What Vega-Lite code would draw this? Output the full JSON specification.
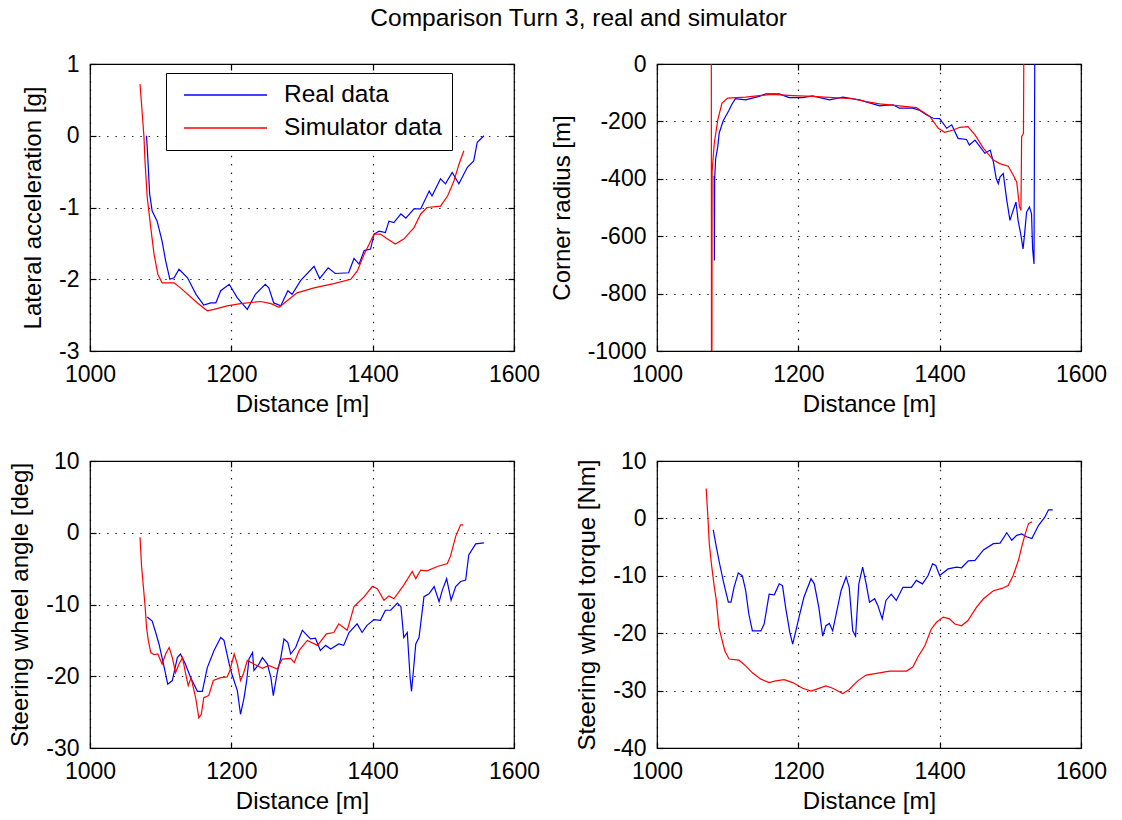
{
  "$schema": "https://vega.github.io/schema/vega-lite/v6.json",
  "background": "white",
  "padding": {"left": 8, "top": 5, "right": 10, "bottom": 5},
  "title": {"text": "Comparison Turn 3, real and simulator", "fontSize": 24.5, "fontWeight": "normal", "font": "Liberation Sans", "color": "black", "anchor": "middle", "offset": 21, "dx": 21},
  "datasets": {
    "acc": [
      {"d":1080,"v":0.0,"s":"Real data"},{"d":1082,"v":-0.35,"s":"Real data"},{"d":1084.4,"v":-0.81,"s":"Real data"},{"d":1088,"v":-1.05,"s":"Real data"},{"d":1095,"v":-1.19,"s":"Real data"},{"d":1102,"v":-1.47,"s":"Real data"},{"d":1107,"v":-1.74,"s":"Real data"},{"d":1113,"v":-2.0,"s":"Real data"},{"d":1119,"v":-1.98,"s":"Real data"},{"d":1126,"v":-1.86,"s":"Real data"},{"d":1138,"v":-1.98,"s":"Real data"},{"d":1150,"v":-2.21,"s":"Real data"},{"d":1161,"v":-2.36,"s":"Real data"},{"d":1171,"v":-2.33,"s":"Real data"},{"d":1178,"v":-2.33,"s":"Real data"},{"d":1185,"v":-2.16,"s":"Real data"},{"d":1197,"v":-2.07,"s":"Real data"},{"d":1208.5,"v":-2.26,"s":"Real data"},{"d":1222.6,"v":-2.42,"s":"Real data"},{"d":1234,"v":-2.21,"s":"Real data"},{"d":1248,"v":-2.07,"s":"Real data"},{"d":1253,"v":-2.12,"s":"Real data"},{"d":1260,"v":-2.33,"s":"Real data"},{"d":1270,"v":-2.37,"s":"Real data"},{"d":1280,"v":-2.16,"s":"Real data"},{"d":1286,"v":-2.21,"s":"Real data"},{"d":1298,"v":-2.02,"s":"Real data"},{"d":1317,"v":-1.82,"s":"Real data"},{"d":1325,"v":-1.99,"s":"Real data"},{"d":1337,"v":-1.84,"s":"Real data"},{"d":1347,"v":-1.92,"s":"Real data"},{"d":1366,"v":-1.91,"s":"Real data"},{"d":1373.6,"v":-1.71,"s":"Real data"},{"d":1380.7,"v":-1.79,"s":"Real data"},{"d":1388,"v":-1.6,"s":"Real data"},{"d":1397,"v":-1.58,"s":"Real data"},{"d":1402,"v":-1.37,"s":"Real data"},{"d":1409,"v":-1.33,"s":"Real data"},{"d":1418,"v":-1.35,"s":"Real data"},{"d":1423,"v":-1.19,"s":"Real data"},{"d":1430,"v":-1.21,"s":"Real data"},{"d":1440,"v":-1.09,"s":"Real data"},{"d":1447,"v":-1.15,"s":"Real data"},{"d":1458.5,"v":-1.02,"s":"Real data"},{"d":1468,"v":-1.02,"s":"Real data"},{"d":1480,"v":-0.77,"s":"Real data"},{"d":1484,"v":-0.84,"s":"Real data"},{"d":1496,"v":-0.6,"s":"Real data"},{"d":1503,"v":-0.67,"s":"Real data"},{"d":1512.5,"v":-0.51,"s":"Real data"},{"d":1522,"v":-0.67,"s":"Real data"},{"d":1534,"v":-0.44,"s":"Real data"},{"d":1543,"v":-0.35,"s":"Real data"},{"d":1548,"v":-0.09,"s":"Real data"},{"d":1557.5,"v":0.0,"s":"Real data"},
      {"d":1070.8,"v":0.72,"s":"Simulator data"},{"d":1074,"v":0.3,"s":"Simulator data"},{"d":1076.4,"v":-0.02,"s":"Simulator data"},{"d":1077.8,"v":-0.35,"s":"Simulator data"},{"d":1081,"v":-0.86,"s":"Simulator data"},{"d":1086,"v":-1.28,"s":"Simulator data"},{"d":1090.6,"v":-1.65,"s":"Simulator data"},{"d":1096,"v":-1.93,"s":"Simulator data"},{"d":1102,"v":-2.05,"s":"Simulator data"},{"d":1119,"v":-2.05,"s":"Simulator data"},{"d":1128,"v":-2.12,"s":"Simulator data"},{"d":1152,"v":-2.33,"s":"Simulator data"},{"d":1166,"v":-2.44,"s":"Simulator data"},{"d":1175.5,"v":-2.42,"s":"Simulator data"},{"d":1194,"v":-2.37,"s":"Simulator data"},{"d":1213,"v":-2.34,"s":"Simulator data"},{"d":1241.5,"v":-2.31,"s":"Simulator data"},{"d":1256,"v":-2.34,"s":"Simulator data"},{"d":1267.5,"v":-2.39,"s":"Simulator data"},{"d":1279,"v":-2.3,"s":"Simulator data"},{"d":1293,"v":-2.19,"s":"Simulator data"},{"d":1317,"v":-2.12,"s":"Simulator data"},{"d":1345,"v":-2.06,"s":"Simulator data"},{"d":1369,"v":-2.0,"s":"Simulator data"},{"d":1378.5,"v":-1.88,"s":"Simulator data"},{"d":1388,"v":-1.65,"s":"Simulator data"},{"d":1402,"v":-1.37,"s":"Simulator data"},{"d":1411,"v":-1.37,"s":"Simulator data"},{"d":1421,"v":-1.44,"s":"Simulator data"},{"d":1432,"v":-1.51,"s":"Simulator data"},{"d":1444,"v":-1.44,"s":"Simulator data"},{"d":1458.5,"v":-1.28,"s":"Simulator data"},{"d":1468,"v":-1.09,"s":"Simulator data"},{"d":1477,"v":-1.0,"s":"Simulator data"},{"d":1496,"v":-0.98,"s":"Simulator data"},{"d":1506,"v":-0.84,"s":"Simulator data"},{"d":1515,"v":-0.63,"s":"Simulator data"},{"d":1522,"v":-0.4,"s":"Simulator data"},{"d":1529,"v":-0.21,"s":"Simulator data"}
    ],
    "radius": [
      {"d":1080.8,"v":-390,"s":"Real data"},{"d":1081.2,"v":-685,"s":"Real data"},{"d":1081.6,"v":-400,"s":"Real data"},{"d":1083,"v":-330,"s":"Real data"},{"d":1086,"v":-288,"s":"Real data"},{"d":1088,"v":-241,"s":"Real data"},{"d":1093.7,"v":-198,"s":"Real data"},{"d":1101.7,"v":-162,"s":"Real data"},{"d":1106,"v":-140,"s":"Real data"},{"d":1111,"v":-121,"s":"Real data"},{"d":1125.5,"v":-125,"s":"Real data"},{"d":1144.5,"v":-113,"s":"Real data"},{"d":1154,"v":-104,"s":"Real data"},{"d":1173,"v":-104,"s":"Real data"},{"d":1187,"v":-117,"s":"Real data"},{"d":1206,"v":-117,"s":"Real data"},{"d":1220,"v":-111,"s":"Real data"},{"d":1244,"v":-125,"s":"Real data"},{"d":1263,"v":-115.5,"s":"Real data"},{"d":1286.5,"v":-125,"s":"Real data"},{"d":1315,"v":-146,"s":"Real data"},{"d":1334,"v":-142,"s":"Real data"},{"d":1343,"v":-154,"s":"Real data"},{"d":1362,"v":-154,"s":"Real data"},{"d":1372,"v":-162,"s":"Real data"},{"d":1381,"v":-177,"s":"Real data"},{"d":1391,"v":-189,"s":"Real data"},{"d":1400,"v":-190,"s":"Real data"},{"d":1410,"v":-224,"s":"Real data"},{"d":1417,"v":-212,"s":"Real data"},{"d":1426,"v":-259,"s":"Real data"},{"d":1438,"v":-263,"s":"Real data"},{"d":1442,"v":-282,"s":"Real data"},{"d":1450,"v":-265,"s":"Real data"},{"d":1457,"v":-288,"s":"Real data"},{"d":1464,"v":-311,"s":"Real data"},{"d":1471.5,"v":-300,"s":"Real data"},{"d":1476,"v":-341,"s":"Real data"},{"d":1480,"v":-399,"s":"Real data"},{"d":1483,"v":-417,"s":"Real data"},{"d":1485.5,"v":-393,"s":"Real data"},{"d":1490,"v":-382,"s":"Real data"},{"d":1495,"v":-475,"s":"Real data"},{"d":1499.5,"v":-545,"s":"Real data"},{"d":1504,"v":-510,"s":"Real data"},{"d":1508,"v":-481,"s":"Real data"},{"d":1511,"v":-545,"s":"Real data"},{"d":1515,"v":-597,"s":"Real data"},{"d":1518,"v":-644,"s":"Real data"},{"d":1520,"v":-597,"s":"Real data"},{"d":1523,"v":-516,"s":"Real data"},{"d":1527,"v":-498,"s":"Real data"},{"d":1530,"v":-522,"s":"Real data"},{"d":1531.5,"v":-644,"s":"Real data"},{"d":1533.5,"v":-697,"s":"Real data"},{"d":1534,"v":-358,"s":"Real data"},{"d":1535,"v":300,"s":"Real data"},
      {"d":1076.8,"v":300,"s":"Simulator data"},{"d":1077.2,"v":-1500,"s":"Simulator data"},{"d":1077.6,"v":-1500,"s":"Simulator data"},{"d":1078,"v":-375,"s":"Simulator data"},{"d":1081,"v":-277,"s":"Simulator data"},{"d":1086,"v":-195,"s":"Simulator data"},{"d":1092,"v":-136,"s":"Simulator data"},{"d":1100,"v":-119,"s":"Simulator data"},{"d":1125.5,"v":-115.5,"s":"Simulator data"},{"d":1144.5,"v":-110,"s":"Simulator data"},{"d":1163,"v":-106,"s":"Simulator data"},{"d":1192,"v":-110,"s":"Simulator data"},{"d":1220,"v":-113,"s":"Simulator data"},{"d":1249,"v":-117,"s":"Simulator data"},{"d":1277,"v":-121,"s":"Simulator data"},{"d":1296,"v":-131,"s":"Simulator data"},{"d":1315,"v":-139,"s":"Simulator data"},{"d":1343,"v":-146,"s":"Simulator data"},{"d":1367,"v":-152,"s":"Simulator data"},{"d":1376,"v":-166,"s":"Simulator data"},{"d":1386,"v":-183,"s":"Simulator data"},{"d":1398,"v":-224,"s":"Simulator data"},{"d":1407,"v":-238,"s":"Simulator data"},{"d":1419,"v":-230,"s":"Simulator data"},{"d":1428.6,"v":-220.5,"s":"Simulator data"},{"d":1440,"v":-218,"s":"Simulator data"},{"d":1450,"v":-247,"s":"Simulator data"},{"d":1462,"v":-294,"s":"Simulator data"},{"d":1476,"v":-335,"s":"Simulator data"},{"d":1485,"v":-347,"s":"Simulator data"},{"d":1497,"v":-356,"s":"Simulator data"},{"d":1504,"v":-387,"s":"Simulator data"},{"d":1509,"v":-411,"s":"Simulator data"},{"d":1513,"v":-498,"s":"Simulator data"},{"d":1515,"v":-510,"s":"Simulator data"},{"d":1516,"v":-253,"s":"Simulator data"},{"d":1518.6,"v":-241,"s":"Simulator data"},{"d":1519.5,"v":300,"s":"Simulator data"}
    ],
    "angle": [
      {"d":1081,"v":-11.75,"s":"Real data"},{"d":1088,"v":-12.3,"s":"Real data"},{"d":1093,"v":-13.9,"s":"Real data"},{"d":1097.6,"v":-15.5,"s":"Real data"},{"d":1104,"v":-18.3,"s":"Real data"},{"d":1110,"v":-21.1,"s":"Real data"},{"d":1116.5,"v":-20.6,"s":"Real data"},{"d":1123.6,"v":-17.4,"s":"Real data"},{"d":1128,"v":-16.9,"s":"Real data"},{"d":1135,"v":-18.3,"s":"Real data"},{"d":1142.5,"v":-20.2,"s":"Real data"},{"d":1152,"v":-22.1,"s":"Real data"},{"d":1159,"v":-22.1,"s":"Real data"},{"d":1166,"v":-18.8,"s":"Real data"},{"d":1175.5,"v":-16.4,"s":"Real data"},{"d":1185,"v":-14.6,"s":"Real data"},{"d":1189.6,"v":-15.0,"s":"Real data"},{"d":1197,"v":-18.3,"s":"Real data"},{"d":1201.4,"v":-19.9,"s":"Real data"},{"d":1208.5,"v":-22.0,"s":"Real data"},{"d":1213,"v":-25.3,"s":"Real data"},{"d":1218,"v":-23.0,"s":"Real data"},{"d":1221.7,"v":-20.6,"s":"Real data"},{"d":1225,"v":-17.6,"s":"Real data"},{"d":1230,"v":-16.7,"s":"Real data"},{"d":1232,"v":-19.2,"s":"Real data"},{"d":1239,"v":-18.3,"s":"Real data"},{"d":1244,"v":-17.4,"s":"Real data"},{"d":1251,"v":-18.3,"s":"Real data"},{"d":1256,"v":-20.2,"s":"Real data"},{"d":1259.4,"v":-22.7,"s":"Real data"},{"d":1265,"v":-19.5,"s":"Real data"},{"d":1270,"v":-17.4,"s":"Real data"},{"d":1274.5,"v":-14.8,"s":"Real data"},{"d":1280,"v":-15.3,"s":"Real data"},{"d":1284,"v":-16.9,"s":"Real data"},{"d":1291,"v":-16.0,"s":"Real data"},{"d":1300.5,"v":-13.6,"s":"Real data"},{"d":1312,"v":-14.8,"s":"Real data"},{"d":1319,"v":-14.7,"s":"Real data"},{"d":1326,"v":-16.4,"s":"Real data"},{"d":1333.5,"v":-15.7,"s":"Real data"},{"d":1340.6,"v":-16.2,"s":"Real data"},{"d":1352,"v":-15.5,"s":"Real data"},{"d":1359,"v":-15.7,"s":"Real data"},{"d":1366.5,"v":-13.9,"s":"Real data"},{"d":1378,"v":-12.7,"s":"Real data"},{"d":1385,"v":-13.9,"s":"Real data"},{"d":1392,"v":-12.9,"s":"Real data"},{"d":1402,"v":-12.1,"s":"Real data"},{"d":1411,"v":-12.2,"s":"Real data"},{"d":1418,"v":-10.8,"s":"Real data"},{"d":1425.5,"v":-10.8,"s":"Real data"},{"d":1435,"v":-9.8,"s":"Real data"},{"d":1440,"v":-10.3,"s":"Real data"},{"d":1444,"v":-14.6,"s":"Real data"},{"d":1449,"v":-13.9,"s":"Real data"},{"d":1453,"v":-20.2,"s":"Real data"},{"d":1455,"v":-22.1,"s":"Real data"},{"d":1458.5,"v":-18.3,"s":"Real data"},{"d":1461,"v":-15.5,"s":"Real data"},{"d":1465.6,"v":-14.6,"s":"Real data"},{"d":1472.6,"v":-8.9,"s":"Real data"},{"d":1479.7,"v":-8.5,"s":"Real data"},{"d":1487,"v":-7.5,"s":"Real data"},{"d":1494,"v":-9.6,"s":"Real data"},{"d":1498.6,"v":-8.0,"s":"Real data"},{"d":1504.7,"v":-6.4,"s":"Real data"},{"d":1511,"v":-9.4,"s":"Real data"},{"d":1517.5,"v":-7.5,"s":"Real data"},{"d":1524.5,"v":-6.8,"s":"Real data"},{"d":1531.6,"v":-6.6,"s":"Real data"},{"d":1536,"v":-3.1,"s":"Real data"},{"d":1545.8,"v":-1.55,"s":"Real data"},{"d":1557.5,"v":-1.4,"s":"Real data"},
      {"d":1070.8,"v":-0.62,"s":"Simulator data"},{"d":1073,"v":-4.7,"s":"Simulator data"},{"d":1075.5,"v":-7.5,"s":"Simulator data"},{"d":1078,"v":-10.3,"s":"Simulator data"},{"d":1080,"v":-13.2,"s":"Simulator data"},{"d":1082.5,"v":-15.0,"s":"Simulator data"},{"d":1086,"v":-16.7,"s":"Simulator data"},{"d":1090.6,"v":-17.0,"s":"Simulator data"},{"d":1096,"v":-16.9,"s":"Simulator data"},{"d":1102,"v":-18.3,"s":"Simulator data"},{"d":1107,"v":-16.9,"s":"Simulator data"},{"d":1112,"v":-16.0,"s":"Simulator data"},{"d":1116.5,"v":-17.4,"s":"Simulator data"},{"d":1121,"v":-19.5,"s":"Simulator data"},{"d":1126,"v":-18.3,"s":"Simulator data"},{"d":1131,"v":-17.4,"s":"Simulator data"},{"d":1135,"v":-19.5,"s":"Simulator data"},{"d":1139,"v":-21.3,"s":"Simulator data"},{"d":1143,"v":-20.2,"s":"Simulator data"},{"d":1149.5,"v":-23.0,"s":"Simulator data"},{"d":1154,"v":-25.8,"s":"Simulator data"},{"d":1157.5,"v":-25.3,"s":"Simulator data"},{"d":1161,"v":-23.0,"s":"Simulator data"},{"d":1168,"v":-22.7,"s":"Simulator data"},{"d":1174.5,"v":-20.6,"s":"Simulator data"},{"d":1185,"v":-20.2,"s":"Simulator data"},{"d":1194,"v":-20.1,"s":"Simulator data"},{"d":1198,"v":-19.2,"s":"Simulator data"},{"d":1204,"v":-16.9,"s":"Simulator data"},{"d":1208.5,"v":-18.3,"s":"Simulator data"},{"d":1213,"v":-20.6,"s":"Simulator data"},{"d":1217,"v":-19.7,"s":"Simulator data"},{"d":1222.6,"v":-17.8,"s":"Simulator data"},{"d":1232,"v":-18.3,"s":"Simulator data"},{"d":1244,"v":-18.9,"s":"Simulator data"},{"d":1253,"v":-18.5,"s":"Simulator data"},{"d":1265,"v":-19.0,"s":"Simulator data"},{"d":1272,"v":-17.6,"s":"Simulator data"},{"d":1284,"v":-17.5,"s":"Simulator data"},{"d":1289,"v":-18.1,"s":"Simulator data"},{"d":1296,"v":-16.4,"s":"Simulator data"},{"d":1307.5,"v":-15.0,"s":"Simulator data"},{"d":1322,"v":-15.7,"s":"Simulator data"},{"d":1334.5,"v":-14.1,"s":"Simulator data"},{"d":1345,"v":-13.9,"s":"Simulator data"},{"d":1352,"v":-12.7,"s":"Simulator data"},{"d":1364,"v":-13.6,"s":"Simulator data"},{"d":1373.6,"v":-10.3,"s":"Simulator data"},{"d":1388,"v":-8.9,"s":"Simulator data"},{"d":1399.5,"v":-7.5,"s":"Simulator data"},{"d":1406.6,"v":-7.8,"s":"Simulator data"},{"d":1416,"v":-9.4,"s":"Simulator data"},{"d":1423,"v":-8.8,"s":"Simulator data"},{"d":1430,"v":-9.2,"s":"Simulator data"},{"d":1444,"v":-7.3,"s":"Simulator data"},{"d":1456,"v":-5.4,"s":"Simulator data"},{"d":1461,"v":-6.4,"s":"Simulator data"},{"d":1468,"v":-5.2,"s":"Simulator data"},{"d":1477,"v":-5.3,"s":"Simulator data"},{"d":1491.5,"v":-4.7,"s":"Simulator data"},{"d":1505.7,"v":-4.3,"s":"Simulator data"},{"d":1510,"v":-3.3,"s":"Simulator data"},{"d":1517.5,"v":-0.5,"s":"Simulator data"},{"d":1524.5,"v":1.1,"s":"Simulator data"},{"d":1528,"v":1.1,"s":"Simulator data"}
    ],
    "torque": [
      {"d":1079.6,"v":-2.0,"s":"Real data"},{"d":1084,"v":-5.0,"s":"Real data"},{"d":1088.6,"v":-7.9,"s":"Real data"},{"d":1094.7,"v":-11.4,"s":"Real data"},{"d":1101,"v":-14.6,"s":"Real data"},{"d":1104.7,"v":-14.6,"s":"Real data"},{"d":1109,"v":-12.0,"s":"Real data"},{"d":1115,"v":-9.5,"s":"Real data"},{"d":1120.8,"v":-10.0,"s":"Real data"},{"d":1125.5,"v":-12.6,"s":"Real data"},{"d":1130,"v":-16.7,"s":"Real data"},{"d":1135,"v":-19.6,"s":"Real data"},{"d":1147,"v":-19.6,"s":"Real data"},{"d":1151.6,"v":-18.4,"s":"Real data"},{"d":1158.7,"v":-13.2,"s":"Real data"},{"d":1166,"v":-13.3,"s":"Real data"},{"d":1173,"v":-11.4,"s":"Real data"},{"d":1177.6,"v":-11.7,"s":"Real data"},{"d":1182,"v":-15.5,"s":"Real data"},{"d":1188,"v":-19.9,"s":"Real data"},{"d":1192,"v":-21.9,"s":"Real data"},{"d":1196.5,"v":-19.6,"s":"Real data"},{"d":1201,"v":-17.2,"s":"Real data"},{"d":1208,"v":-13.7,"s":"Real data"},{"d":1218,"v":-10.5,"s":"Real data"},{"d":1222.6,"v":-11.4,"s":"Real data"},{"d":1229,"v":-15.5,"s":"Real data"},{"d":1234.5,"v":-20.5,"s":"Real data"},{"d":1239,"v":-18.7,"s":"Real data"},{"d":1244,"v":-18.3,"s":"Real data"},{"d":1248.6,"v":-19.6,"s":"Real data"},{"d":1253,"v":-17.0,"s":"Real data"},{"d":1260.5,"v":-12.6,"s":"Real data"},{"d":1267.6,"v":-10.2,"s":"Real data"},{"d":1272,"v":-12.0,"s":"Real data"},{"d":1277,"v":-19.6,"s":"Real data"},{"d":1281,"v":-20.5,"s":"Real data"},{"d":1285.6,"v":-11.4,"s":"Real data"},{"d":1291,"v":-8.5,"s":"Real data"},{"d":1296,"v":-11.4,"s":"Real data"},{"d":1300.7,"v":-14.6,"s":"Real data"},{"d":1308,"v":-14.0,"s":"Real data"},{"d":1312.6,"v":-15.2,"s":"Real data"},{"d":1318.7,"v":-17.5,"s":"Real data"},{"d":1324,"v":-14.3,"s":"Real data"},{"d":1331.5,"v":-13.2,"s":"Real data"},{"d":1338.6,"v":-14.3,"s":"Real data"},{"d":1348,"v":-12.0,"s":"Real data"},{"d":1360,"v":-12.0,"s":"Real data"},{"d":1367,"v":-10.8,"s":"Real data"},{"d":1375.6,"v":-11.4,"s":"Real data"},{"d":1383.6,"v":-9.95,"s":"Real data"},{"d":1390,"v":-7.9,"s":"Real data"},{"d":1394.5,"v":-8.2,"s":"Real data"},{"d":1400,"v":-9.95,"s":"Real data"},{"d":1412,"v":-8.8,"s":"Real data"},{"d":1424,"v":-8.5,"s":"Real data"},{"d":1431,"v":-8.6,"s":"Real data"},{"d":1440.5,"v":-7.4,"s":"Real data"},{"d":1450,"v":-7.3,"s":"Real data"},{"d":1462,"v":-5.5,"s":"Real data"},{"d":1476,"v":-4.4,"s":"Real data"},{"d":1485.5,"v":-4.3,"s":"Real data"},{"d":1495,"v":-2.5,"s":"Real data"},{"d":1502,"v":-3.8,"s":"Real data"},{"d":1509,"v":-2.95,"s":"Real data"},{"d":1516,"v":-2.7,"s":"Real data"},{"d":1523,"v":-3.2,"s":"Real data"},{"d":1530.5,"v":-3.5,"s":"Real data"},{"d":1540,"v":-1.2,"s":"Real data"},{"d":1549,"v":0.25,"s":"Real data"},{"d":1554,"v":1.5,"s":"Real data"},{"d":1560,"v":1.5,"s":"Real data"},
      {"d":1069.6,"v":5.2,"s":"Simulator data"},{"d":1072,"v":0.25,"s":"Simulator data"},{"d":1074,"v":-4.4,"s":"Simulator data"},{"d":1077,"v":-7.9,"s":"Simulator data"},{"d":1080.5,"v":-11.4,"s":"Simulator data"},{"d":1084,"v":-14.3,"s":"Simulator data"},{"d":1087.6,"v":-19.0,"s":"Simulator data"},{"d":1091,"v":-20.7,"s":"Simulator data"},{"d":1096,"v":-23.1,"s":"Simulator data"},{"d":1102,"v":-24.5,"s":"Simulator data"},{"d":1116,"v":-24.7,"s":"Simulator data"},{"d":1125.5,"v":-25.7,"s":"Simulator data"},{"d":1135,"v":-26.9,"s":"Simulator data"},{"d":1147,"v":-28.0,"s":"Simulator data"},{"d":1158.7,"v":-28.6,"s":"Simulator data"},{"d":1168,"v":-28.3,"s":"Simulator data"},{"d":1180,"v":-28.1,"s":"Simulator data"},{"d":1192,"v":-28.6,"s":"Simulator data"},{"d":1206,"v":-29.6,"s":"Simulator data"},{"d":1218,"v":-30.1,"s":"Simulator data"},{"d":1227,"v":-29.7,"s":"Simulator data"},{"d":1239,"v":-29.2,"s":"Simulator data"},{"d":1248.6,"v":-29.6,"s":"Simulator data"},{"d":1263,"v":-30.5,"s":"Simulator data"},{"d":1272,"v":-29.8,"s":"Simulator data"},{"d":1284,"v":-28.3,"s":"Simulator data"},{"d":1296,"v":-27.3,"s":"Simulator data"},{"d":1315,"v":-26.9,"s":"Simulator data"},{"d":1329,"v":-26.6,"s":"Simulator data"},{"d":1353,"v":-26.6,"s":"Simulator data"},{"d":1362,"v":-25.9,"s":"Simulator data"},{"d":1369,"v":-24.2,"s":"Simulator data"},{"d":1379,"v":-22.2,"s":"Simulator data"},{"d":1388,"v":-19.3,"s":"Simulator data"},{"d":1395.5,"v":-18.1,"s":"Simulator data"},{"d":1405,"v":-17.2,"s":"Simulator data"},{"d":1414,"v":-17.5,"s":"Simulator data"},{"d":1421.5,"v":-18.4,"s":"Simulator data"},{"d":1431,"v":-18.7,"s":"Simulator data"},{"d":1440,"v":-17.8,"s":"Simulator data"},{"d":1452,"v":-15.5,"s":"Simulator data"},{"d":1462,"v":-14.0,"s":"Simulator data"},{"d":1476,"v":-12.6,"s":"Simulator data"},{"d":1488,"v":-12.2,"s":"Simulator data"},{"d":1497,"v":-11.7,"s":"Simulator data"},{"d":1504,"v":-9.95,"s":"Simulator data"},{"d":1511.5,"v":-7.3,"s":"Simulator data"},{"d":1516,"v":-5.0,"s":"Simulator data"},{"d":1521,"v":-2.7,"s":"Simulator data"},{"d":1525.7,"v":-0.9,"s":"Simulator data"},{"d":1530.5,"v":-0.6,"s":"Simulator data"}
    ]
  },
  "columns": 2,
  "spacing": {"row": 110, "column": 143},
  "bounds": "flush",
  "resolve": {"scale": {"color": "independent", "x": "independent", "y": "independent"}, "legend": {"color": "independent"}},
  "concat": [
    {
      "width": 424, "height": 287,
      "data": {"name": "acc"},
      "resolve": {"axis": {"x": "independent", "y": "independent"}},
      "layer": [
        {"transform": [{"filter": "datum.s == 'Real data'"}],
         "mark": {"type": "line", "strokeWidth": 1.2, "clip": true},
         "encoding": {
           "x": {"field": "d", "type": "quantitative", "scale": {"domain": [1000, 1600], "nice": false, "zero": false}, "axis": {"orient": "bottom", "values": [1000, 1200, 1400, 1600], "title": "Distance [m]"}},
           "y": {"field": "v", "type": "quantitative", "scale": {"domain": [-3, 1], "nice": false, "zero": false}, "axis": {"orient": "left", "values": [-3, -2, -1, 0, 1], "title": "Lateral acceleration [g]"}},
           "color": {"field": "s", "type": "nominal", "scale": {"domain": ["Real data", "Simulator data"], "range": ["#0000ff", "#ff0000"]},
             "legend": {"orient": "none", "legendX": 76, "legendY": 9, "title": null, "symbolType": "stroke", "symbolSize": 6889, "symbolStrokeWidth": 1.3, "symbolOffset": 7, "clipHeight": 24, "labelFontSize": 24.5, "labelColor": "black", "labelFont": "Liberation Sans", "strokeColor": "black", "fillColor": "white", "padding": 10, "labelOffset": 16, "rowPadding": 8}}
         }},
        {"transform": [{"filter": "datum.s == 'Simulator data'"}],
         "mark": {"type": "line", "strokeWidth": 1.2, "clip": true},
         "encoding": {
           "x": {"field": "d", "type": "quantitative", "axis": {"orient": "top", "values": [1000, 1200, 1400, 1600], "labels": false, "grid": false, "title": null}},
           "y": {"field": "v", "type": "quantitative", "axis": {"orient": "right", "values": [-3, -2, -1, 0, 1], "labels": false, "grid": false, "title": null}},
           "color": {"field": "s", "type": "nominal"}
         }}
      ]
    },
    {
      "width": 424, "height": 287,
      "data": {"name": "radius"},
      "resolve": {"axis": {"x": "independent", "y": "independent"}},
      "layer": [
        {"transform": [{"filter": "datum.s == 'Real data'"}],
         "mark": {"type": "line", "strokeWidth": 1.2, "clip": true},
         "encoding": {
           "x": {"field": "d", "type": "quantitative", "scale": {"domain": [1000, 1600], "nice": false, "zero": false}, "axis": {"orient": "bottom", "values": [1000, 1200, 1400, 1600], "title": "Distance [m]"}},
           "y": {"field": "v", "type": "quantitative", "scale": {"domain": [-1000, 0], "nice": false, "zero": false}, "axis": {"orient": "left", "values": [-1000, -800, -600, -400, -200, 0], "title": "Corner radius [m]"}},
           "color": {"field": "s", "type": "nominal", "scale": {"domain": ["Real data", "Simulator data"], "range": ["#0000ff", "#ff0000"]}, "legend": null}
         }},
        {"transform": [{"filter": "datum.s == 'Simulator data'"}],
         "mark": {"type": "line", "strokeWidth": 1.2, "clip": true},
         "encoding": {
           "x": {"field": "d", "type": "quantitative", "axis": {"orient": "top", "values": [1000, 1200, 1400, 1600], "labels": false, "grid": false, "title": null}},
           "y": {"field": "v", "type": "quantitative", "axis": {"orient": "right", "values": [-1000, -800, -600, -400, -200, 0], "labels": false, "grid": false, "title": null}},
           "color": {"field": "s", "type": "nominal", "legend": null}
         }}
      ]
    },
    {
      "width": 424, "height": 287,
      "data": {"name": "angle"},
      "resolve": {"axis": {"x": "independent", "y": "independent"}},
      "layer": [
        {"transform": [{"filter": "datum.s == 'Real data'"}],
         "mark": {"type": "line", "strokeWidth": 1.2, "clip": true},
         "encoding": {
           "x": {"field": "d", "type": "quantitative", "scale": {"domain": [1000, 1600], "nice": false, "zero": false}, "axis": {"orient": "bottom", "values": [1000, 1200, 1400, 1600], "title": "Distance [m]"}},
           "y": {"field": "v", "type": "quantitative", "scale": {"domain": [-30, 10], "nice": false, "zero": false}, "axis": {"orient": "left", "values": [-30, -20, -10, 0, 10], "title": "Steering wheel angle [deg]"}},
           "color": {"field": "s", "type": "nominal", "scale": {"domain": ["Real data", "Simulator data"], "range": ["#0000ff", "#ff0000"]}, "legend": null}
         }},
        {"transform": [{"filter": "datum.s == 'Simulator data'"}],
         "mark": {"type": "line", "strokeWidth": 1.2, "clip": true},
         "encoding": {
           "x": {"field": "d", "type": "quantitative", "axis": {"orient": "top", "values": [1000, 1200, 1400, 1600], "labels": false, "grid": false, "title": null}},
           "y": {"field": "v", "type": "quantitative", "axis": {"orient": "right", "values": [-30, -20, -10, 0, 10], "labels": false, "grid": false, "title": null}},
           "color": {"field": "s", "type": "nominal", "legend": null}
         }}
      ]
    },
    {
      "width": 424, "height": 287,
      "data": {"name": "torque"},
      "resolve": {"axis": {"x": "independent", "y": "independent"}},
      "layer": [
        {"transform": [{"filter": "datum.s == 'Real data'"}],
         "mark": {"type": "line", "strokeWidth": 1.2, "clip": true},
         "encoding": {
           "x": {"field": "d", "type": "quantitative", "scale": {"domain": [1000, 1600], "nice": false, "zero": false}, "axis": {"orient": "bottom", "values": [1000, 1200, 1400, 1600], "title": "Distance [m]"}},
           "y": {"field": "v", "type": "quantitative", "scale": {"domain": [-40, 10], "nice": false, "zero": false}, "axis": {"orient": "left", "values": [-40, -30, -20, -10, 0, 10], "title": "Steering wheel torque [Nm]"}},
           "color": {"field": "s", "type": "nominal", "scale": {"domain": ["Real data", "Simulator data"], "range": ["#0000ff", "#ff0000"]}, "legend": null}
         }},
        {"transform": [{"filter": "datum.s == 'Simulator data'"}],
         "mark": {"type": "line", "strokeWidth": 1.2, "clip": true},
         "encoding": {
           "x": {"field": "d", "type": "quantitative", "axis": {"orient": "top", "values": [1000, 1200, 1400, 1600], "labels": false, "grid": false, "title": null}},
           "y": {"field": "v", "type": "quantitative", "axis": {"orient": "right", "values": [-40, -30, -20, -10, 0, 10], "labels": false, "grid": false, "title": null}},
           "color": {"field": "s", "type": "nominal", "legend": null}
         }}
      ]
    }
  ],
  "config": {
    "font": "Liberation Sans",
    "view": {"stroke": "black", "strokeWidth": 1.2},
    "axis": {
      "grid": true, "gridColor": "black", "gridDash": [1.5, 6.8], "gridWidth": 1.2, "gridOpacity": 0.85,
      "domain": false, "ticks": true, "tickColor": "black", "tickSize": -6, "tickWidth": 1.2,
      "labelExpr": "datum.value + ''", "labelFlush": false, "labelOverlap": false,
      "labelFont": "Liberation Sans", "labelFontSize": 23, "labelColor": "black",
      "titleFont": "Liberation Sans", "titleFontSize": 24, "titleFontWeight": "normal", "titleColor": "black"
    },
    "axisX": {"labelPadding": 18, "titlePadding": 6},
    "axisY": {"labelPadding": 17, "titlePadding": 13}
  }
}
